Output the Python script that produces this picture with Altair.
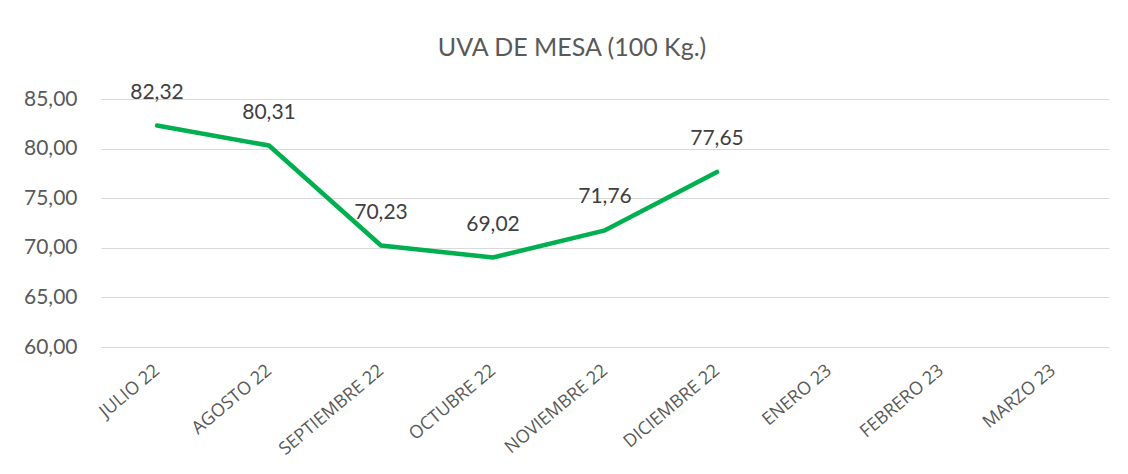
import altair as alt
import pandas as pd

months = ["JULIO 22", "AGOSTO 22", "SEPTIEMBRE 22", "OCTUBRE 22", "NOVIEMBRE 22",
          "DICIEMBRE 22", "ENERO 23", "FEBRERO 23", "MARZO 23"]
prices = [82.32, 80.31, 70.23, 69.02, 71.76, 77.65, None, None, None]
label_texts = ["82,32", "80,31", "70,23", "69,02", "71,76", "77,65", "", "", ""]

df = pd.DataFrame({"mes": months, "precio": prices, "etiqueta": label_texts})
df_vals = df.dropna()

x = alt.X("mes:N", sort=months, title=None,
          scale=alt.Scale(domain=months, paddingInner=0, paddingOuter=0),
          axis=alt.Axis(labelAngle=-40, labelAlign="right", labelBaseline="middle",
                        labelPadding=21, labelFontSize=18, labelColor="#595959",
                        labelFont="Open Sans", domain=False, ticks=False, grid=False))
y = alt.Y("precio:Q", title=None,
          scale=alt.Scale(domain=[60, 85], nice=False, zero=False),
          axis=alt.Axis(values=[60, 65, 70, 75, 80, 85],
                        labelExpr="replace(format(datum.value, '.2f'), '.', ',')",
                        labelFontSize=21, labelColor="#595959", labelFont="Lato",
                        labelPadding=24, domain=False, ticks=False,
                        grid=True, gridColor="#d9d9d9", gridWidth=1))

line = alt.Chart(df_vals).mark_line(color="#00B050", strokeWidth=4.5, strokeCap="round",
                                    strokeJoin="round").encode(x=x, y=y)
labels = alt.Chart(df_vals).mark_text(dy=-33, fontSize=21, color="#404040",
                                      font="Lato").encode(x=x, y=y, text="etiqueta:N")

chart = (line + labels).properties(
    width=1008, height=248,
    title=alt.TitleParams("UVA DE MESA (100 Kg.)", fontSize=25, font="Lato",
                          fontWeight="normal", color="#595959", anchor="middle",
                          offset=21, dx=-33),
    autosize=alt.AutoSizeParams(type="none"),
    padding={"left": 93, "top": 91, "right": 10, "bottom": 126},
    background="white",
).configure_view(strokeWidth=0, stroke=None)

chart.save("out.html", embed_options={"renderer": "svg", "actions": False})
